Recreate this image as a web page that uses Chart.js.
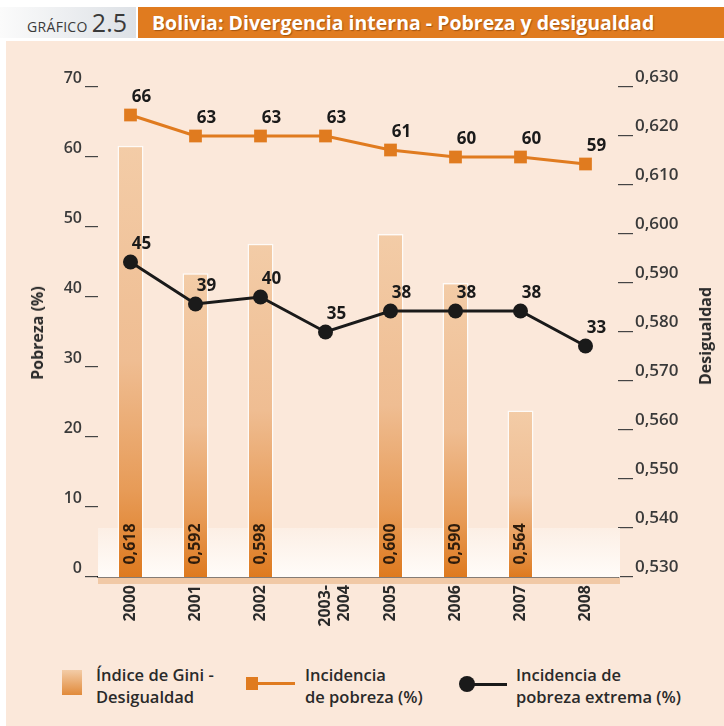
<!DOCTYPE html>
<html>
<head>
<meta charset="utf-8">
<script src="https://cdn.jsdelivr.net/npm/chart.js@4"></script>
<style>
  body { margin: 0; width: 724px; height: 726px; background: #fff; position: relative; overflow: hidden; font-family: "Open Sans", sans-serif; }
  #gbox { position: absolute; left: 0; top: 7px; width: 136px; height: 31px; background: linear-gradient(to right, #fbfbfb, #dde1e6); color: #3a3a3a; text-align: right; box-sizing: border-box; padding-right: 9px; line-height: 31px; }
  #gbox .g { font-size: 14px; letter-spacing: 0.3px; }
  #gbox .n { font-size: 25px; }
  #obar { position: absolute; left: 138px; top: 7px; width: 586px; height: 31px; background: #e07b1f; color: #fff; font-weight: bold; font-size: 19.5px; line-height: 31px; padding-left: 14px; box-sizing: border-box; text-shadow: 1px 1px 1px rgba(90,40,0,0.45); white-space: nowrap; }
  #panel { position: absolute; left: 6px; top: 41px; width: 718px; height: 685px; background: #fbe8da; }
  #wrap { position: absolute; left: 0; top: 40px; width: 724px; height: 600px; }
  .atitle { position: absolute; transform: translate(-50%, -50%) rotate(-90deg); font-weight: bold; font-size: 16px; color: #2a2a2a; white-space: nowrap; }
  .leg { position: absolute; font-size: 16.5px; font-weight: 600; line-height: 22px; color: #2a2a2a; }
  .sw { position: absolute; }
</style>
</head>
<body>
<div id="gbox"><span class="g">GRÁFICO</span> <span class="n">2.5</span></div>
<div id="obar">Bolivia: Divergencia interna - Pobreza y desigualdad</div>
<div id="panel"></div>
<div id="wrap"><canvas id="chart" width="724" height="600"></canvas></div>
<div class="atitle" style="left:37px; top:333px;">Pobreza (%)</div>
<div class="atitle" style="left:705px; top:336px;">Desigualdad</div>

<div class="sw" style="left:62px; top:670px; width:20px; height:25px; background:linear-gradient(#f3cca7, #e18a3a);"></div>
<div class="leg" style="left:96px; top:664px;">Índice de Gini -<br>Desigualdad</div>
<div class="sw" style="left:258px; top:682px; width:37px; height:3px; background:#e07b1f;"></div>
<div class="sw" style="left:246px; top:677px; width:12px; height:13px; background:#e07b1f;"></div>
<div class="leg" style="left:305px; top:664px;">Incidencia<br>de pobreza (%)</div>
<div class="sw" style="left:467px; top:683px; width:40px; height:3px; background:#1a1a1a;"></div>
<div class="sw" style="left:459px; top:676px; width:16px; height:16px; border-radius:50%; background:#1a1a1a;"></div>
<div class="leg" style="left:516px; top:664px;">Incidencia de<br>pobreza extrema (%)</div>

<script>
const years = ["2000", "2001", "2002", ["2003-", "2004"], "2005", "2006", "2007", "2008"];
const gini = [0.618, 0.592, 0.598, null, 0.600, 0.590, 0.564, null];
const pobreza = [66, 63, 63, 63, 61, 60, 60, 59];
const pobrezaExtrema = [45, 39, 40, 35, 38, 38, 38, 33];

const orange = "#e07b1f";
const dark = "#1a1a1a";

function barFill(ctx) {
  const chart = ctx.chart;
  const area = chart.chartArea;
  if (!area || ctx.raw == null || !chart.scales.y1) return "#eeb07e";
  const top = chart.scales.y1.getPixelForValue(ctx.raw);
  const g = chart.ctx.createLinearGradient(0, top, 0, area.bottom);
  g.addColorStop(0, "#f3cca7");
  g.addColorStop(0.5, "#efbd92");
  g.addColorStop(0.8, "#e79b57");
  g.addColorStop(1, "#de7a1f");
  return g;
}

// light band at the foot of the plot and the shadow under the axis
const decor = {
  id: "decor",
  beforeDatasetsDraw(chart) {
    const { ctx, chartArea: a, scales } = chart;
    const top = scales.y.getPixelForValue(7);
    const g = ctx.createLinearGradient(0, top, 0, a.bottom);
    g.addColorStop(0, "#fcefe5");
    g.addColorStop(1, "#fffcf9");
    ctx.save();
    ctx.fillStyle = g;
    ctx.fillRect(a.left, top, a.right - a.left + 2, a.bottom - top);
    ctx.fillStyle = "#f1c9a6";
    ctx.fillRect(a.left, a.bottom + 1, a.right - a.left + 2, 6);
    ctx.restore();
  },
  afterDatasetsDraw(chart) {
    const { ctx, chartArea: a } = chart;
    ctx.save();
    // bar values, rotated inside bars
    const barMeta = chart.getDatasetMeta(0);
    ctx.font = "bold 16px 'Open Sans'";
    ctx.fillStyle = "#2e1c0c";
    ctx.textAlign = "center";
    ctx.textBaseline = "middle";
    barMeta.data.forEach((el, i) => {
      if (gini[i] == null) return;
      ctx.save();
      ctx.translate(el.x, a.bottom - 33);
      ctx.rotate(-Math.PI / 2);
      ctx.fillText(gini[i].toFixed(3).replace(".", ","), 0, 0);
      ctx.restore();
    });
    // line values
    ctx.font = "bold 17px 'Open Sans'";
    ctx.fillStyle = dark;
    [1, 2].forEach(di => {
      const meta = chart.getDatasetMeta(di);
      const vals = chart.data.datasets[di].data;
      meta.data.forEach((el, i) => {
        ctx.fillText(String(vals[i]), el.x + 11, el.y - 18);
      });
    });
    ctx.restore();
  }
};

new Chart(document.getElementById("chart"), {
  type: "bar",
  data: {
    labels: years,
    datasets: [
      {
        label: "Índice de Gini - Desigualdad",
        data: gini,
        yAxisID: "y1",
        backgroundColor: barFill,
        borderColor: "rgba(255,255,255,0.8)",
        borderWidth: 1.5,
        barPercentage: 0.4,
        categoryPercentage: 1,
        order: 3
      },
      {
        type: "line",
        label: "Incidencia de pobreza (%)",
        data: pobreza,
        yAxisID: "y",
        borderColor: orange,
        borderWidth: 3,
        pointStyle: "rect",
        pointRadius: 9,
        pointBackgroundColor: orange,
        pointBorderWidth: 0,
        order: 2
      },
      {
        type: "line",
        label: "Incidencia de pobreza extrema (%)",
        data: pobrezaExtrema,
        yAxisID: "y",
        borderColor: dark,
        borderWidth: 3,
        pointStyle: "circle",
        pointRadius: 7.5,
        pointBackgroundColor: dark,
        pointBorderWidth: 0,
        order: 1
      }
    ]
  },
  options: {
    responsive: false,
    animation: false,
    layout: { padding: { top: 47, left: 0, right: 0, bottom: 0 } },
    plugins: {
      legend: { display: false },
      tooltip: { enabled: false }
    },
    scales: {
      x: {
        grid: { display: false, drawTicks: false },
        border: { display: true, color: "#111", width: 1.5 },
        ticks: {
          maxRotation: 90,
          minRotation: 90,
          padding: 8,
          color: "#2a2a2a",
          font: { family: "'Open Sans'", size: 16, weight: "bold" }
        },
        afterFit: s => { s.height = 63; }
      },
      y: {
        position: "left",
        min: 0,
        max: 70,
        ticks: {
          stepSize: 10,
          padding: 3,
          labelOffset: -9,
          color: "#3a3a3a",
          font: { family: "'Open Sans'", size: 16, weight: "600" }
        },
        grid: { drawOnChartArea: false, drawTicks: true, tickLength: 13, color: "#444", lineWidth: 1.2 },
        border: { display: false },
        afterFit: s => { s.width = 98; }
      },
      y1: {
        position: "right",
        min: 0.53,
        max: 0.63,
        ticks: {
          stepSize: 0.01,
          padding: 2,
          labelOffset: -10,
          color: "#3a3a3a",
          font: { family: "'Open Sans'", size: 17, weight: "600" },
          callback: v => v.toFixed(3).replace(".", ",")
        },
        grid: { drawOnChartArea: false, drawTicks: true, tickLength: 15, color: "#444", lineWidth: 1.2 },
        border: { display: false },
        afterFit: s => { s.width = 106; }
      }
    }
  },
  plugins: [decor]
});
</script>
</body>
</html>
